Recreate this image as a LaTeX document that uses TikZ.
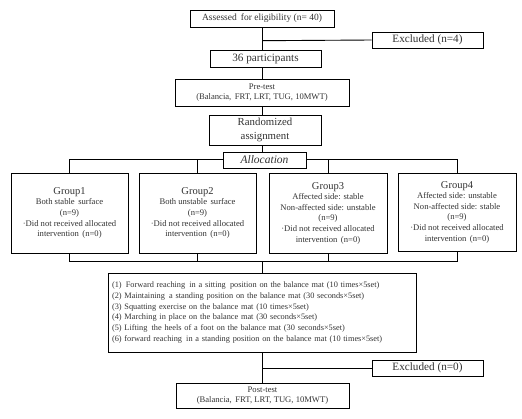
\documentclass[tikz,border=0pt]{standalone}
\usepackage{fontspec}
\setmainfont{Liberation Serif}
\begin{document}
\begin{tikzpicture}[x=1pt,y=-1pt,
  box/.style={draw=black, line width=0.9pt, fill=white, inner sep=1pt, align=center, text=black!80},
  ln/.style={draw=black, line width=0.9pt},
  sm/.style={font=\fontsize{8.6}{10.6}\selectfont},
  big/.style={font=\fontsize{11.2}{13}\selectfont}]
\useasboundingbox (0,0) rectangle (522,418);
\node[box, font=\fontsize{9.5}{11}\selectfont, minimum width=144, minimum height=17] (assess) at (262,18.5) {Assessed\, for eligibility (n= 40)};
\node[box, big, minimum width=111, minimum height=16] (excl1) at (427.5,40) {Excluded (n=4)};
\node[box, big, minimum width=111, minimum height=17] (part) at (265.5,58.5) {36 participants};
\node[box, sm, minimum width=174, minimum height=27] (pre) at (262,92.5) {Pre-test\\(Balancia,\, FRT, LRT, TUG, 10MWT)};
\node[box, font=\fontsize{10.8}{13.5}\selectfont, minimum width=112, minimum height=30] (rand) at (265,130) {Randomized\\assignment};
\node[box, font=\itshape\fontsize{11.5}{12}\selectfont, minimum width=83, minimum height=16, inner sep=0pt] (alloc) at (264.5,160) {Allocation};

\node[box, sm, minimum width=117, minimum height=80] (g1) at (69.5,213) {{\fontsize{10.5}{12}\selectfont Group1}\\Both stable\, surface\\(n=9)\\·Did not received allocated\\intervention\, (n=0)};
\node[box, sm, minimum width=117, minimum height=80] (g2) at (197.5,213) {{\fontsize{10.5}{12}\selectfont Group2}\\Both unstable\, surface\\(n=9)\\·Did not received allocated\\intervention\, (n=0)};
\node[box, sm, minimum width=118, minimum height=80] (g3) at (328,213) {{\fontsize{10.5}{12}\selectfont Group3}\\Affected side: stable\\Non-affected side: unstable\\(n=9)\\·Did not received allocated\\intervention\, (n=0)};
\node[box, sm, minimum width=118, minimum height=78] (g4) at (457,212) {{\fontsize{10.5}{12}\selectfont Group4}\\Affected side: unstable\\Non-affected side: stable\\(n=9)\\·Did not received allocated\\intervention\, (n=0)};

\node[box, font=\fontsize{8.3}{10.8}\selectfont, align=left, minimum width=308, minimum height=79, text width=300] (ex) at (262,312.5) {(1)\, Forward reaching\, in a sitting\, position on the balance mat (10 times×5set)\\
(2) Maintaining\, a standing position on the balance mat (30 seconds×5set)\\
(3) Squatting exercise on the balance mat (10 times×5set)\\
(4) Marching in place on the balance mat (30 seconds×5set)\\
(5) Lifting\, the heels of a foot on the balance mat (30 seconds×5set)\\
(6) forward reaching\, in a standing position on the balance mat (10 times×5set)};
\node[box, big, minimum width=111, minimum height=16] (excl2) at (427.5,368) {Excluded (n=0)};
\node[box, sm, minimum width=173, minimum height=25] (post) at (262.5,395.5) {Post-test\\(Balancia,\, FRT, LRT, TUG, 10MWT)};

\coordinate (b1) at (262,40.7);
\coordinate (b2) at (262,368);
\coordinate (aL) at (69.5,159);
\coordinate (aR) at (457,159);
\coordinate (bL) at (69.5,261);
\coordinate (bR) at (457,261);
\coordinate (bM) at (262,261);

\draw[ln] (assess.south -| b1) -- (part.north -| b1);
\draw[ln] (b1) -- (excl1.west);
\draw[ln] (part.south -| b1) -- (pre.north -| b1);
\draw[ln] (pre.south -| b1) -- (rand.north -| b1);
\draw[ln] (rand.south -| b1) -- (alloc.north -| b1);
\draw[ln] (aL) -- (alloc.west |- aL);
\draw[ln] (alloc.east |- aR) -- (aR);
\draw[ln] (aL) -- (g1.north);
\draw[ln] (g2.north |- aL) -- (g2.north);
\draw[ln] (g3.north |- aR) -- (g3.north);
\draw[ln] (aR) -- (g4.north);
\draw[ln] (g1.south) -- (bL) -- (bR) -- (g4.south);
\draw[ln] (g2.south) -- (g2.south |- bL);
\draw[ln] (g3.south) -- (g3.south |- bL);
\draw[ln] (bM) -- (ex.north -| bM);
\draw[ln] (ex.south -| b2) -- (post.north -| b2);
\draw[ln] (b2) -- (excl2.west);
\end{tikzpicture}
\end{document}
